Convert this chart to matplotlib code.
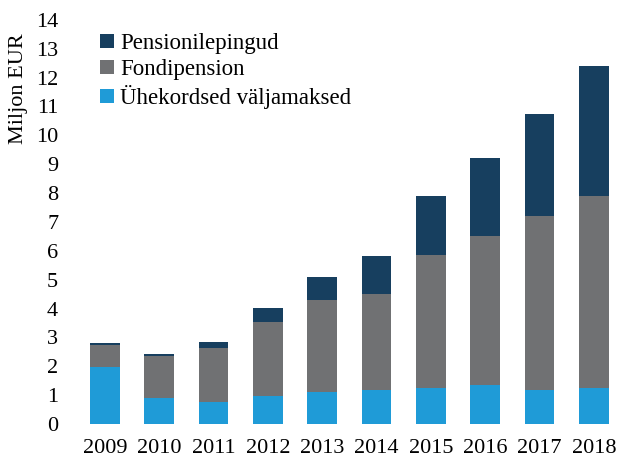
import matplotlib.pyplot as plt
import numpy as np

plt.rcParams['font.family'] = ['Liberation Serif', 'DejaVu Serif']

years = ['2009', '2010', '2011', '2012', '2013', '2014', '2015', '2016', '2017', '2018']
uhekordsed = np.array([1.97, 0.91, 0.77, 0.97, 1.12, 1.19, 1.26, 1.34, 1.19, 1.26])
fondipension = np.array([0.76, 1.45, 1.86, 2.56, 3.18, 3.32, 4.58, 5.17, 6.02, 6.64])
pensionilepingud = np.array([0.09, 0.07, 0.22, 0.50, 0.79, 1.32, 2.06, 2.72, 3.53, 4.50])

c_blue = '#1f9bd7'
c_gray = '#707173'
c_dark = '#173f5f'

fig = plt.figure(figsize=(6.21, 4.62), dpi=100)
ax = fig.add_axes([0.125, 0.082, 0.875, 0.875])

x = np.arange(len(years))
w = 0.55
ax.bar(x, uhekordsed, w, color=c_blue, label='Ühekordsed väljamaksed')
ax.bar(x, fondipension, w, bottom=uhekordsed, color=c_gray, label='Fondipension')
ax.bar(x, pensionilepingud, w, bottom=uhekordsed + fondipension, color=c_dark,
       label='Pensionilepingud')

ax.set_xlim(-0.5, 9.5)
ax.set_ylim(0, 14)
ax.set_yticks(np.arange(0, 15, 1))
ax.set_xticks(x)
ax.set_xticklabels(years)
ax.tick_params(length=0, labelsize=16, colors='black')
ax.tick_params(axis='x', pad=11)
ax.tick_params(axis='y', pad=14)
for s in ax.spines.values():
    s.set_visible(False)
ax.set_ylabel('Miljon EUR', fontsize=16)
ax.yaxis.set_label_coords(-0.092, 0.83)

handles, labels = ax.get_legend_handles_labels()
ax.legend(handles[::-1], labels[::-1], loc='upper left', bbox_to_anchor=(0.025, 0.99),
          frameon=False, fontsize=16.5, handlelength=0.6, handleheight=0.6,
          handletextpad=0.25, labelspacing=0.22, borderaxespad=0)

fig.savefig('out.png', dpi=100)
